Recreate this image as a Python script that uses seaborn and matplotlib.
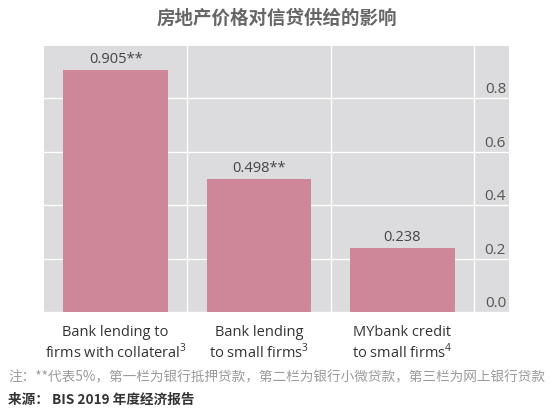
import matplotlib
matplotlib.use("Agg")
import matplotlib.pyplot as plt
import matplotlib.transforms as mtransforms
import seaborn as sns
import pandas as pd

categories = ["Bank lending to\nfirms with collateral$^3$",
              "Bank lending\nto small firms$^3$",
              "MYbank credit\nto small firms$^4$"]
values = [0.905, 0.498, 0.238]
value_labels = ["0.905**", "0.498**", "0.238"]
yticks = [0.0, 0.2, 0.4, 0.6, 0.8]
ytick_labels = ["0.0", "0.2", "0.4", "0.6", "0.8"]
title = "房地产价格对信贷供给的影响"
note = "注：**代表5%，第一栏为银行抵押贷款，第二栏为银行小微贷款，第三栏为网上银行贷款"
source = "来源： BIS 2019 年度经济报告"

sns.set_style("white")
plt.rcParams['font.family'] = ['Open Sans', 'Noto Sans CJK SC', 'DejaVu Sans']
plt.rcParams['mathtext.fontset'] = 'custom'
plt.rcParams['mathtext.rm'] = 'Open Sans'

df = pd.DataFrame({"cat": categories, "val": values})

fig = plt.figure(figsize=(5.53, 4.10), dpi=100)
ax = fig.add_axes([44/553, 97/410, 465/553, 266/410])
ax.set_facecolor("#dcdbdd")

sns.barplot(data=df, x="cat", y="val", color="#cd8798", saturation=1,
            width=0.73, ax=ax, zorder=3, linewidth=0, edgecolor="none")

ax.set_xlim(-0.5, 2.744)
ax.set_ylim(0, 0.995)

for i, (v, lab) in enumerate(zip(values, value_labels)):
    ax.text(i, v + 0.015, lab, ha="center", va="bottom", fontsize=10.5, color="#444444",
            zorder=4)

# grid
ax.set_xticks([0.5, 1.5, 2.5], minor=True)
ax.grid(which="minor", axis="x", color="white", linewidth=1.0, zorder=1)
ax.set_yticks(yticks)
ax.grid(which="major", axis="y", color="white", linewidth=1.0, zorder=1)
ax.grid(which="major", axis="x", visible=False)

# y tick labels drawn inside the plot on the right
ax.tick_params(axis="y", left=False, right=False, labelleft=False, labelright=False)
trans = mtransforms.blended_transform_factory(ax.transAxes, ax.transData)
offset = mtransforms.ScaledTranslation(0, 2/100, fig.dpi_scale_trans)
for yv, lab in zip(yticks, ytick_labels):
    ax.text(1 - 3/465, yv, lab, transform=trans + offset, ha="right", va="bottom",
            fontsize=11, color="#555555", zorder=4)

ax.tick_params(axis="x", which="both", bottom=False, labelsize=10.5, labelcolor="#333333", pad=5)
ax.set_xlabel("")
ax.set_ylabel("")
for s in ax.spines.values():
    s.set_visible(False)

fig.text(0.5, 1 - 18/410, title, ha="center", va="center", fontsize=13.3,
         color="#666666", fontweight="bold", family=['Noto Sans CJK SC', 'DejaVu Sans'])
fig.text(8/553, 1 - 377/410, note, ha="left", va="center", fontsize=9.8,
         color="#9a9a9a", family=['Noto Sans CJK SC', 'DejaVu Sans'])
fig.text(8/553, 1 - 400/410, source, ha="left", va="center", fontsize=9.8,
         color="#333333", fontweight="bold", family=['Noto Sans CJK SC', 'DejaVu Sans'])

fig.savefig("out.png", dpi=100)
